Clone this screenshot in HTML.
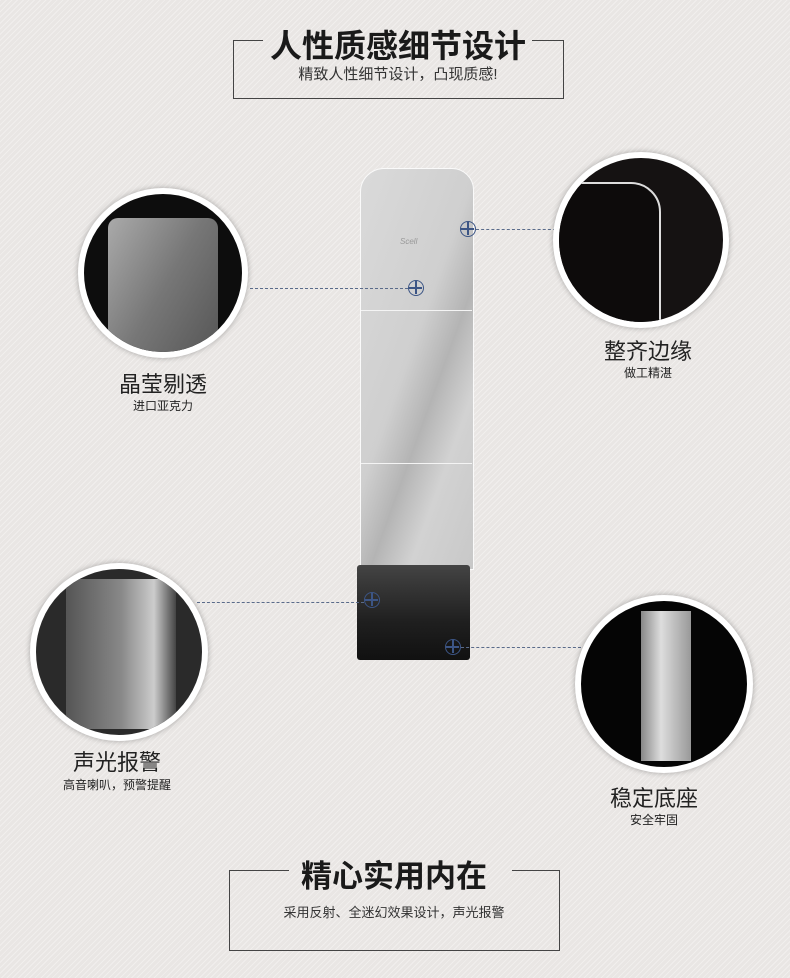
<!DOCTYPE html>
<html><head><meta charset="utf-8"><style>
body{margin:0}
#c{position:relative;width:790px;height:978px;overflow:hidden;background:#e9e6e4;background-image:repeating-linear-gradient(135deg,rgba(255,255,255,.35) 0 1px,transparent 1px 4px);font-family:"Liberation Sans","Noto Sans CJK SC",sans-serif;color:#222}
.a{position:absolute}
.box{position:absolute;border:1px solid #444;border-top:none}
.t{position:absolute;text-align:center;white-space:nowrap}
.circ{position:absolute;border-radius:50%;border:6px solid #fff;box-shadow:0 0 6px rgba(0,0,0,.3);overflow:hidden;background:#111}
.dash{position:absolute;height:0;border-top:1px dashed #5a6b8a}
.plus{position:absolute;width:16px;height:16px;border:1.5px solid #3c5585;border-radius:50%;box-sizing:border-box}
.plus:before{content:"";position:absolute;left:6px;top:0;width:1.5px;height:13px;background:#3c5585}
.plus:after{content:"";position:absolute;top:6px;left:0;height:1.5px;width:13px;background:#3c5585}
</style></head><body><div id="c">
<!-- top box -->
<div class="box" style="left:233px;top:40px;width:329px;height:58px"></div>
<div class="a" style="left:233px;top:40px;width:30px;border-top:1px solid #444"></div>
<div class="a" style="left:532px;top:40px;width:31px;border-top:1px solid #444"></div>
<div class="t" style="left:233px;width:330px;top:21px;font-size:32px;font-weight:bold;color:#1a1a1a">人性质感细节设计</div>
<div class="t" style="left:233px;width:330px;top:63px;font-size:15px;color:#333">精致人性细节设计，凸现质感!</div>

<!-- device -->
<div class="a" style="left:360px;top:168px;width:112px;height:400px;border:1px solid #fafafa;border-radius:24px 22px 0 0;background:linear-gradient(110deg,#dadada 0%,#cfcfcf 45%,#b4b4b4 60%,#d2d2d2 75%,#c8c8c8 100%)"></div>
<div class="a" style="left:361px;top:310px;width:111px;border-top:1px solid #f4f4f4"></div>
<div class="a" style="left:361px;top:463px;width:111px;border-top:1px solid #f4f4f4"></div>
<div class="t" style="left:400px;top:237px;font-size:8px;color:#999;font-style:italic">Scell</div>
<div class="a" style="left:357px;top:565px;width:113px;height:95px;border-radius:3px;background:linear-gradient(180deg,#444 0%,#1f1f1f 60%,#111 100%)"></div>

<div class="plus" style="left:408px;top:280px"></div>
<div class="plus" style="left:460px;top:221px"></div>
<div class="plus" style="left:364px;top:592px"></div>
<div class="plus" style="left:445px;top:639px"></div>
<div class="dash" style="left:250px;top:288px;width:158px"></div>
<div class="dash" style="left:476px;top:229px;width:80px"></div>
<div class="dash" style="left:197px;top:602px;width:167px"></div>
<div class="dash" style="left:461px;top:647px;width:120px"></div>

<!-- circles -->
<div class="circ" style="left:78px;top:188px;width:158px;height:158px;background:#0d0d0d">
 <div class="a" style="left:24px;top:24px;width:110px;height:140px;border-radius:10px;background:linear-gradient(120deg,#aaa,#777 50%,#555)"></div></div>
<div class="circ" style="left:553px;top:152px;width:164px;height:164px;background:#151212">
 <div class="a" style="left:-10px;top:24px;width:108px;height:140px;border:2px solid #ddd;border-radius:0 30px 0 0;background:#0d0b0b"></div></div>
<div class="circ" style="left:30px;top:563px;width:166px;height:166px;background:#2a2a2a">
 <div class="a" style="left:30px;top:10px;width:110px;height:150px;background:linear-gradient(90deg,#555,#888 50%,#ccc 80%,#444)"></div></div>
<div class="circ" style="left:575px;top:595px;width:166px;height:166px;background:#050505">
 <div class="a" style="left:60px;top:10px;width:50px;height:150px;background:linear-gradient(90deg,#888,#ddd 40%,#999)"></div></div>

<!-- labels -->
<div class="t" style="left:63px;width:200px;top:367px;font-size:22px">晶莹剔透</div>
<div class="t" style="left:63px;width:200px;top:397px;font-size:12px">进口亚克力</div>
<div class="t" style="left:548px;width:200px;top:334px;font-size:22px">整齐边缘</div>
<div class="t" style="left:548px;width:200px;top:364px;font-size:12px">做工精湛</div>
<div class="t" style="left:17px;width:200px;top:745px;font-size:22px">声光报警</div>
<div class="t" style="left:17px;width:200px;top:776px;font-size:12px">高音喇叭，预警提醒</div>
<div class="t" style="left:554px;width:200px;top:781px;font-size:22px">稳定底座</div>
<div class="t" style="left:554px;width:200px;top:811px;font-size:12px">安全牢固</div>

<!-- bottom box -->
<div class="box" style="left:229px;top:870px;width:329px;height:80px"></div>
<div class="a" style="left:229px;top:870px;width:60px;border-top:1px solid #444"></div>
<div class="a" style="left:512px;top:870px;width:47px;border-top:1px solid #444"></div>
<div class="t" style="left:229px;width:330px;top:851px;font-size:31px;font-weight:bold;color:#1a1a1a">精心实用内在</div>
<div class="t" style="left:229px;width:330px;top:902px;font-size:13px;color:#333">采用反射、全迷幻效果设计，声光报警</div>
</div></body></html>
